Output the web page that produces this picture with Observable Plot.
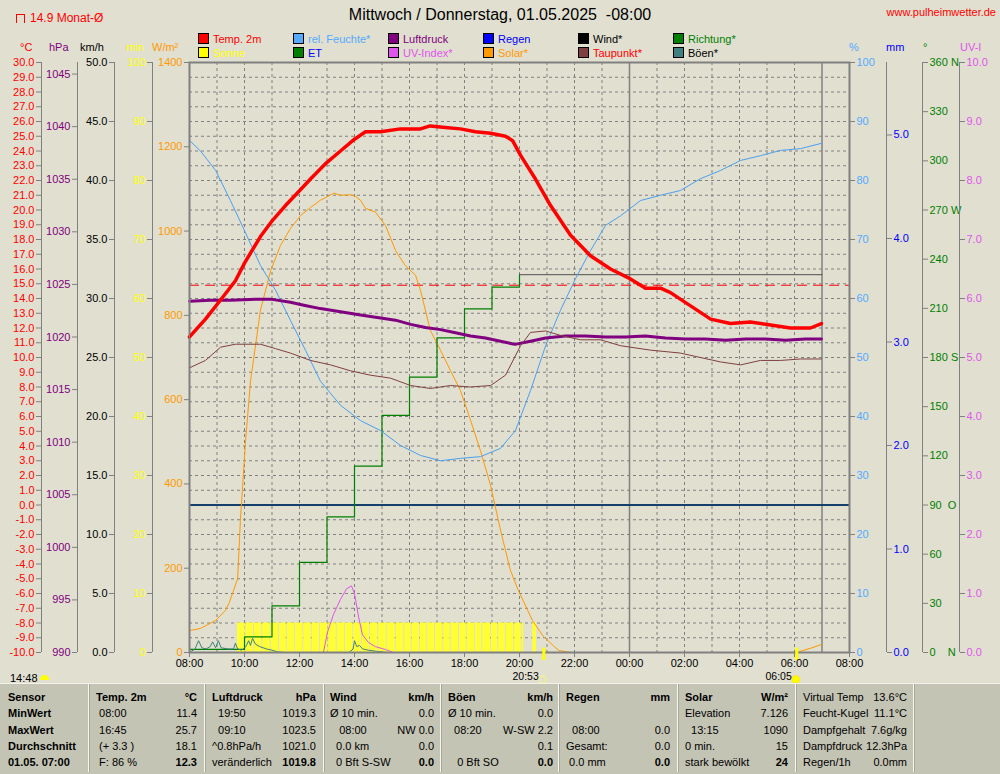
<!DOCTYPE html>
<html><head><meta charset="utf-8">
<script src="https://cdn.jsdelivr.net/npm/d3@7"></script>
<script src="https://cdn.jsdelivr.net/npm/@observablehq/plot@0.6"></script>
<style>
body{margin:0;background:#e0dfd0;}
#chart{position:relative;width:1000px;height:774px;background:#e0dfd0;overflow:hidden;font-family:"Liberation Sans",Arial,sans-serif;}
.abs{position:absolute;white-space:pre;line-height:1;}
</style></head><body><div id="chart"></div>
<script>
// ---------------- DATA (hours since 00:00 of day 1; 24+ = next day) ----------------
const tempData = [[8.0,11.4],[8.58,12.6],[9.13,13.9],[9.67,15.2],[10.0,16.4],[10.58,18.2],[11.02,19.3],[11.49,20.3],[12.0,21.3],[12.4,22.1],[12.98,23.2],[13.49,24.0],[14.0,24.8],[14.4,25.3],[14.95,25.3],[15.67,25.5],[16.4,25.5],[16.75,25.7],[17.3,25.6],[17.85,25.5],[18.4,25.3],[18.95,25.2],[19.49,25.0],[19.75,24.7],[20.04,23.7],[20.58,22.1],[21.13,20.3],[21.85,18.3],[22.58,16.9],[23.31,16.0],[23.96,15.4],[24.58,14.7],[25.13,14.7],[25.49,14.4],[26.22,13.5],[26.95,12.6],[27.67,12.3],[28.4,12.4],[29.13,12.2],[29.85,12.0],[30.58,12.0],[30.98,12.3]];
const pressureData = [[8.0,1023.4],[8.76,1023.5],[9.49,1023.5],[10.4,1023.6],[10.95,1023.6],[11.67,1023.3],[12.2,1023.0],[12.76,1022.7],[13.49,1022.4],[14.22,1022.1],[14.95,1021.8],[15.49,1021.6],[16.04,1021.2],[16.58,1020.9],[17.13,1020.7],[17.67,1020.4],[18.22,1020.1],[18.76,1019.9],[19.31,1019.6],[19.83,1019.3],[20.4,1019.6],[20.95,1019.9],[21.67,1020.1],[22.4,1020.1],[23.13,1020.0],[23.85,1020.0],[24.58,1020.1],[25.31,1019.9],[26.04,1019.8],[26.76,1019.8],[27.49,1019.7],[28.22,1019.8],[28.95,1019.8],[29.67,1019.7],[30.4,1019.8],[30.98,1019.8]];
const humidityData = [[8.0,86.8],[8.4,85],[8.95,81.7],[9.49,76.6],[10.0,71.5],[10.58,65.6],[11.13,61.4],[11.67,56.3],[12.22,51.2],[12.76,46.0],[13.49,41.9],[14.22,39.3],[14.95,37.6],[15.67,35.1],[16.4,33.4],[17.13,32.5],[17.85,32.9],[18.58,33.2],[19.31,34.6],[19.85,37.6],[20.4,44.4],[20.95,52.0],[21.49,58.0],[22.04,63.4],[22.58,68.1],[23.13,72.4],[23.67,74.0],[24.4,76.6],[25.13,77.5],[25.85,78.3],[26.58,80.3],[27.31,81.7],[28.04,83.4],[28.76,84.2],[29.49,85.1],[30.22,85.4],[30.98,86.3]];
const dewData = [[8.0,9.3],[8.58,9.8],[9.13,10.7],[9.67,10.9],[10.58,10.9],[11.13,10.6],[11.67,10.3],[12.4,9.8],[13.13,9.5],[13.85,9.1],[14.58,8.8],[15.31,8.6],[16.04,8.1],[16.76,7.9],[17.49,8.1],[18.22,8.0],[18.95,8.1],[19.49,8.8],[20.04,10.8],[20.4,11.7],[20.95,11.8],[21.49,11.5],[22.22,11.2],[22.95,11.2],[23.67,10.8],[24.76,10.5],[25.85,10.3],[26.58,10.0],[27.31,9.7],[28.04,9.5],[28.76,9.8],[29.49,9.8],[30.22,9.9],[30.98,9.9]];
const solarDay = [[8.0,52],[8.4,57],[8.95,76],[9.31,100],[9.45,119],[9.6,147],[9.75,175],[9.85,313],[10.04,503],[10.22,645],[10.58,812],[10.95,906],[11.31,966],[11.67,1006],[12.04,1037],[12.4,1056],[12.76,1073],[13.25,1090],[13.49,1085],[13.85,1086],[14.04,1082],[14.22,1073],[14.4,1054],[14.76,1045],[15.13,1013],[15.49,954],[15.85,918],[16.22,895],[16.4,859],[16.76,764],[17.13,717],[17.49,669],[17.85,622],[18.22,551],[18.58,479],[18.95,396],[19.31,290],[19.67,195],[19.96,147],[20.47,76],[20.87,38],[21.42,5],[21.85,0]];
const solarMorning = [[30.07,0],[30.58,10],[30.98,19]];
const uvData = [[12.7,0],[12.87,0],[13.02,0.35],[13.24,0.65],[13.49,0.9],[13.71,1.08],[13.89,1.13],[14.0,1.0],[14.15,0.6],[14.29,0.3],[14.51,0.17],[14.76,0.1],[15.13,0.05],[15.42,0],[15.6,0]];
const gustData = [[8.0,0.0],[8.2,0.3],[8.33,1.0],[8.45,0.4],[8.6,0.3],[8.75,0.5],[8.84,0.9],[8.95,0.4],[9.05,1.0],[9.15,0.4],[9.4,0.3],[9.6,0.3],[9.67,0.8],[9.75,0.3],[9.9,0.2],[10.05,0.5],[10.15,1.0],[10.22,0.6],[10.29,1.2],[10.4,0.7],[10.55,0.5],[10.8,0.3],[11.0,0.2],[11.2,0.05],[11.5,0],[13.8,0],[13.95,0.3],[14.0,1.0],[14.08,0.5],[14.18,0.6],[14.3,0.3],[14.5,0.2],[14.8,0.1],[15.2,0]];
const etSteps = [[8,0.03],[10,0.15],[11,0.45],[12,0.87],[13,1.31],[14,1.80],[15,2.29],[16,2.66],[17,3.04],[18,3.32],[19,3.53],[20,3.65]];
const etTail = [[20,3.65],[31,3.65]];
const sunEdges = [9.745,10.062,10.364,10.665,10.971,11.273,11.553,11.855,12.156,12.462,12.764,13.065,13.371,13.673,13.975,14.280,14.582,14.884,15.189,15.516,15.829,16.098,16.4,16.665,16.945,17.247,17.516,17.818,18.098,18.4,18.665,18.982,19.247,19.516,19.829,20.098,20.19];
const sunExtra = [[20.484,20.655]];
const sunMinutes = 5;
const sunEvents = [{t:20.883,label:"20:53",kind:"set"},{t:30.083,label:"06:05",kind:"rise"}];
const monthAvg = 14.9;
const midnight = 24, nowT = 31;

// ticks
const xTicks = [8,10,12,14,16,18,20,22,24,26,28,30,32];
const tempTicks = d3.range(-10, 30.5, 1);
const hpaTicks = [990,995,1000,1005,1010,1015,1020,1025,1030,1035,1040,1045];
const kmhTicks = [0,5,10,15,20,25,30,35,40,45,50];
const minTicks = [0,10,20,30,40,50,60,70,80,90,100];
const wmTicks = [0,200,400,600,800,1000,1200,1400];
const pctTicks = [0,10,20,30,40,50,60,70,80,90,100];
const mmTicks = [0,1,2,3,4,5];
const dirTicks = [0,30,60,90,120,150,180,210,240,270,300,330,360];
const dirNames = {0:"0\u00a0\u00a0\u00a0\u00a0N",90:"90\u00a0\u00a0O",180:"180 S",270:"270 W",360:"360 N"};
const uvTicks = [0,1,2,3,4,5,6,7,8,9,10];

const legendItems = [
  ["Temp. 2m","#ff0000","#ff0000"],["rel. Feuchte*","#55aaff","#55aaff"],["Luftdruck","#800080","#800080"],["Regen","#0000ff","#0000ff"],["Wind*","#000000","#000000"],["Richtung*","#008000","#008000"],
  ["Sonne","#ffff00","#ffff00"],["ET","#008000","#0000ff"],["UV-Index*","#e055ee","#e055ee"],["Solar*","#ff9900","#ff9900"],["Taupunkt*","#804040","#ff0000"],["Böen*","#408080","#000000"]
];

const tableCols = [
  {L:8, R:null, cells:[["Sensor"],["MinWert"],["MaxWert"],["Durchschnitt"],["01.05. 07:00"]], allBold:true},
  {L:96, R:197, cells:[["Temp. 2m","°C"],[" 08:00","11.4"],[" 16:45","25.7"],[" (+ 3.3 )","18.1"],[" F: 86 %","12.3"]]},
  {L:212, R:316, cells:[["Luftdruck","hPa"],["  19:50","1019.3"],["  09:10","1023.5"],["^0.8hPa/h","1021.0"],["veränderlich","1019.8"]]},
  {L:330, R:434, cells:[["Wind","km/h"],["Ø 10 min.","0.0"],["   08:00","NW 0.0"],["  0.0 km","0.0"],["  0 Bft S-SW","0.0"]]},
  {L:448, R:553, cells:[["Böen","km/h"],["Ø 10 min.","0.0"],["  08:20","W-SW 2.2"],["","0.1"],["   0 Bft SO","0.0"]]},
  {L:566, R:670, cells:[["Regen","mm"],["",""],["  08:00","0.0"],["Gesamt:","0.0"],[" 0.0 mm","0.0"]]},
  {L:685, R:788, cells:[["Solar","W/m²"],["Elevation","7.126"],["  13:15","1090"],["0 min.","15"],["stark bewölkt","24"]]},
  {L:803, R:907, cells:[["Virtual Temp","13.6°C"],["Feucht-Kugel","11.1°C"],["Dampfgehalt","7.6g/kg"],["Dampfdruck","12.3hPa"],["Regen/1h","0.0mm"]], plain:true}
];
const colSeps = [88,204,323,440,558,677,795,913];

// ---------------- LAYOUT ----------------
const FONT = "'Liberation Sans', Arial, sans-serif";
const GRID = "#808080";
const STYLE = {background:"transparent", fontFamily:FONT, fontSize:"11px", overflow:"visible"};
const chart = document.getElementById("chart");
const W = 1000, H = 680, MT = 62, MB = 28, ML = 189, MR = 151;
const X_DOMAIN = [8, 32];
const P = {x: d => d[0], y: d => d[1]};

function addSvg(svg){ svg.style.position="absolute"; svg.style.left="0px"; svg.style.top="0px"; chart.appendChild(svg); }
function dataLayer(yDomain, marks, xAxis=false){
  addSvg(Plot.plot({width:W,height:H,marginTop:MT,marginBottom:MB,marginLeft:ML,marginRight:MR,
    x: xAxis ? {domain:X_DOMAIN} : {domain:X_DOMAIN, axis:null},
    y: {domain:yDomain, axis:null}, style:STYLE, marks}));
}
function axisLayer(pos, side, yDomain, ticks, fmt, color){
  const left = side === "left";
  addSvg(Plot.plot({width:W,height:H,marginTop:MT,marginBottom:MB,
    marginLeft: left ? pos : pos-1, marginRight: left ? W-pos-1 : W-pos,
    x:{domain:[0,1], axis:null}, y:{domain:yDomain}, style:STYLE,
    marks:[
      Plot.ruleX([left ? 0 : 1], {stroke:GRID}),
      Plot.axisY(ticks, {anchor:side, tickFormat:fmt, fill:color, stroke:GRID, tickSize:5, tickPadding:2, label:null})
    ]}));
}
function txt(x, y, s, o={}){
  const d = document.createElement("div");
  d.className = "abs"; d.textContent = s;
  d.style.left = x+"px"; d.style.top = y+"px";
  d.style.fontSize = (o.size||11)+"px";
  d.style.color = o.color||"#000";
  if (o.bold) d.style.fontWeight = "bold";
  const tx = o.anchor==="end" ? "-100%" : o.anchor==="middle" ? "-50%" : "0";
  d.style.transform = `translate(${tx},-50%)`;
  chart.appendChild(d); return d;
}
function box(x, y, w, h, css){
  const d = document.createElement("div");
  d.style.position="absolute"; d.style.left=x+"px"; d.style.top=y+"px"; d.style.width=w+"px"; d.style.height=h+"px"; d.style.boxSizing="border-box";
  Object.assign(d.style, css); chart.appendChild(d); return d;
}

const TEMP_D = [-10,30], HPA_D = [990,1046.1], KMH_D=[0,50], MIN_D=[0,100], WM_D=[0,1400], PCT_D=[0,100], MM_D=[0,5.7], DIR_D=[0,360], UV_D=[0,10];

// base grid
const gridHours = d3.range(9, 32).filter(h => h !== midnight && h !== nowT);
dataLayer(TEMP_D, [
  Plot.ruleY(d3.range(-9, 30), {stroke:GRID, strokeDasharray:"3,3"}),
  Plot.ruleX(gridHours, {stroke:GRID, strokeDasharray:"3,3"}),
  Plot.ruleX([midnight, nowT], {stroke:GRID, strokeWidth:1.5}),
  Plot.ruleY([0], {stroke:"#153f6b", strokeWidth:2}),
  Plot.ruleY([monthAvg], {stroke:"#ff0000", strokeDasharray:"10,6"})
]);
// sunshine bars
const sunBars = d3.pairs(sunEdges).concat(sunExtra).map(([a,b]) => ({a, b, v:sunMinutes}));
dataLayer(MIN_D, [Plot.rectY(sunBars, {x1:"a", x2:"b", y1:0, y2:"v", fill:"#ffff33", insetRight:1})]);
dataLayer(WM_D, [
  Plot.line(solarDay, {...P, stroke:"#ff9900", strokeWidth:1}),
  Plot.line(solarMorning, {...P, stroke:"#ff9900", strokeWidth:1})
]);
dataLayer(UV_D, [Plot.line(uvData, {...P, stroke:"#e055ee", strokeWidth:1})]);
dataLayer(MM_D, [
  Plot.line(etSteps.concat([[20.0001,3.65]]), {...P, stroke:"#008000", strokeWidth:1.2, curve:"step-after"}),
  Plot.line(etTail, {...P, stroke:"#505050", strokeWidth:1})
]);
dataLayer(KMH_D, [Plot.line(gustData, {...P, stroke:"#408080", strokeWidth:1})]);
dataLayer(PCT_D, [Plot.line(humidityData, {...P, stroke:"#4ba0f0", strokeWidth:1})]);
dataLayer(HPA_D, [Plot.line(pressureData, {...P, stroke:"#800080", strokeWidth:3})]);
dataLayer(TEMP_D, [
  Plot.frame({stroke:GRID, strokeWidth:2}),
  Plot.line(dewData, {...P, stroke:"#804040", strokeWidth:1}),
  Plot.line(tempData, {...P, stroke:"#ff0000", strokeWidth:3.5}),
  Plot.ruleX(sunEvents, {x:"t", y1:-9.7, y2:-10.55, stroke:"#ffff00", strokeWidth:3}),
  Plot.axisX(xTicks, {tickSize:5, tickPadding:2, stroke:GRID, fill:"#000", label:null,
    tickFormat: h => String(h % 24).padStart(2,"0") + ":00"}),
  Plot.text(sunEvents, {x:"t", text:"label", frameAnchor:"bottom", dy:27, dx:-5, textAnchor:"end", fill:"#000", fontSize:10.5}),
  Plot.dot(sunEvents, {x:"t", frameAnchor:"bottom", dy:27, dx:-1, r:3.5,
    fill: d => d.kind === "rise" ? "#ffff00" : "none", stroke: d => d.kind === "rise" ? "#ffee00" : "#f0f090"})
], true);

// axes
axisLayer(41, "left", TEMP_D, tempTicks, d => d.toFixed(1), "#ff0000");
axisLayer(77, "left", HPA_D, hpaTicks, d => String(d), "#800080");
axisLayer(114, "left", KMH_D, kmhTicks, d => d.toFixed(1), "#000000");
axisLayer(152, "left", MIN_D, minTicks, d => String(d), "#ffff00");
axisLayer(189, "left", WM_D, wmTicks, d => String(d), "#ff9900");
axisLayer(849, "right", PCT_D, pctTicks, d => String(d), "#55aaff");
axisLayer(886, "right", MM_D, mmTicks, d => d.toFixed(1), "#0000ff");
axisLayer(922, "right", DIR_D, dirTicks, d => dirNames[d] || String(d), "#008000");
axisLayer(959, "right", UV_D, uvTicks, d => d.toFixed(1), "#e055ee");

// axis headers
[["°C",20,"#ff0000"],["hPa",49,"#800080"],["km/h",80,"#000"],["min",126,"#ffff00"],["W/m²",152,"#ff9900"],
 ["%",849,"#55aaff"],["mm",886,"#0000ff"],["°",923,"#008000"],["UV-I",960,"#e055ee"]].forEach(([s,x,c]) => txt(x, 47, s, {color:c}));

// title etc.
txt(500, 15, "Mittwoch / Donnerstag, 01.05.2025  -08:00", {size:16, anchor:"middle"});
txt(996, 12, "www.pulheimwetter.de", {color:"#ff0000", anchor:"end"});
box(16, 14, 9, 9, {borderTop:"1.5px solid #ff0000", borderLeft:"1.5px solid #ff0000", borderRight:"1.5px solid #ff0000"});
txt(30, 18, "14.9 Monat-Ø", {color:"#ff0000", size:12});

// legend
const legX = [198,293,388,483,578,673];
legendItems.forEach(([label, boxC, textC], i) => {
  const col = i % 6, row = Math.floor(i / 6);
  const x = legX[col], y = row ? 47 : 33;
  box(x, y, 11, 11, {background:boxC, border:"1px solid #000"});
  txt(x + 15, y + 5.5, label, {color:textC});
});

// moon / time label bottom-left
txt(10, 678, "14:48");
box(40, 675, 9, 5, {background:"#ffff00", borderRadius:"5px 5px 0 0"});

// table
box(0, 683, 1000, 91, {background:"#c4c4b4", borderTop:"1px solid #f2f2ea"});
colSeps.forEach(x => box(x, 684, 2, 88, {borderLeft:"1px solid #f6f6f0", borderRight:"1px solid #a8a898"}));
const rowY = [697, 713, 730, 746, 762];
tableCols.forEach(col => {
  col.cells.forEach((cell, r) => {
    const boldL = col.allBold || (!col.plain && r === 0);
    const boldR = !col.plain && (r === 0 || r === 4);
    if (cell[0]) txt(col.L, rowY[r], cell[0], {bold:boldL});
    if (col.R !== null && cell[1]) txt(col.R, rowY[r], cell[1], {bold:boldR, anchor:"end"});
  });
});
</script></body></html>
